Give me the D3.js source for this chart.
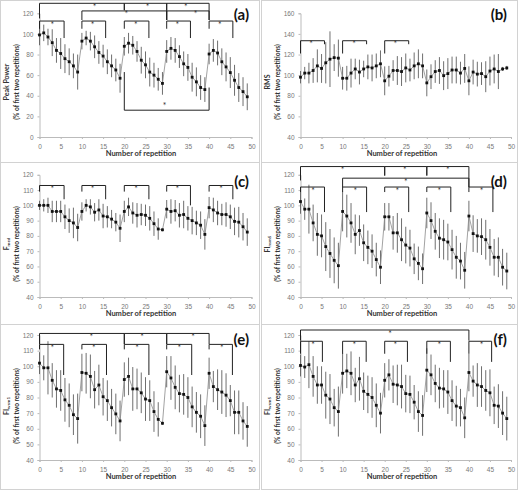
<!DOCTYPE html>
<html>
<head>
<meta charset="utf-8">
<script src="https://cdn.jsdelivr.net/npm/d3@7"></script>
<style>
  body { margin: 0; background: #fff; }
  svg { display: block; font-family: Lato, "Open Sans", sans-serif; }
</style>
</head>
<body>
<svg id="fig" width="522" height="490"></svg>
<script>
// Repetition index (x categories)
const reps = [0,1,2,3,4,5,6,7,8,9,10,11,12,13,14,15,16,17,18,19,20,21,22,23,24,25,26,27,28,29,
  30,31,32,33,34,35,36,37,38,39,40,41,42,43,44,45,46,47,48,49];
const xTicks = [0, 5, 10, 15, 20, 25, 30, 35, 40, 45, 50];

// (a) Peak power
const peakPower = [99,101,97,91.5,84,81,76,73,69,63, 93,96,93,87.5,82,78.5,73,69,65,57,
  88,91,89,83,74.5,70,63,60,56,52, 83,86,84,78,71,67.5,58,53.5,48,46, 80.5,84,81.5,73,68,62.5,55,48,44,39];
const peakPowerErr = [10,8,8,13,12,15,14,13,12,17, 8,7,9,11,11,11,12,11,11,14, 9,10,9,10,13,13,14,12,11,11,
  11,11,12,11,12,13,14,14,12,12, 10,11,12,13,14,15,15,14,14,13];

// (b) RMS
const rms = [98,102,102,104.5,109,106.5,112,115.5,117,116.5, 97,97,102,106,103,106,108,107,109,111,
  94.5,99,104.5,104.5,103.5,107,105,109,111,109, 92.5,98.5,103.5,104.5,99.5,101.5,105,105,102,106.5,
  94.5,103,101,101.5,98.5,104,106,103.5,106,107];
const rmsErr = [6,6,10,12,16,14,20,27,13,18, 11,12,14,10,12,8,12,13,12,13, 14,10,10,14,14,14,11,13,14,12,
  13,12,11,13,14,15,13,13,11,14, 14,12,12,11,15,14,14,17,2,2];

// (c) Fmed
const fmed = [100,100,100,96,96,96,92.5,90,88.5,85.5, 96,100,99,95.5,97,93,92.5,91,89,85,
  96,99,95,93.5,94,93.5,91.5,88,84.5,84, 97.5,96,96.5,93.5,94,91.5,90,88.5,87,81,
  98.5,97,95,94,94,92.5,89.5,89,86,82.5];
const fmedErr = [3,4,5,7,7,7,8,8,10,9, 6,4,5,6,7,8,7,6,6,9, 7,6,7,8,7,7,8,8,7,1,
  6,8,7,8,9,8,9,8,9,10, 7,8,8,7,8,8,9,10,9,9];

// (d) FInsm5
const fiNsm5 = [102.5,97.5,97.5,88.5,81,80,73,68.5,64,60.5, 96,93,88.5,81,83.5,75.5,72.5,70,64.5,59.5,
  92.5,92.5,82,82,77.5,74,72,65,62,58.5, 95,90,83,78.5,77.5,76,71,66,63.5,57.5,
  93,81.5,80,79.5,77.5,72.5,66,66,59.5,57];
const fiNsm5Err = [8,7,16,12,14,14,16,16,15,15, 13,14,13,13,10,12,11,11,11,11, 9,9,11,13,14,12,12,10,11,10,
  10,12,12,13,13,12,13,14,12,12, 10,12,11,12,13,12,12,13,12,12];

// (e) FIwsm1
const fiWsm1 = [102,99,99,91,85.5,84.5,78.5,75,69,66.5, 96,95.5,93.5,85,88,80.5,78,73.5,69.5,65,
  91.5,93.5,85.5,85.5,83,79,78,71,66,63.5, 96.5,92.5,86.5,82.5,82,80,74,70.5,68,62,
  95.5,87,85,83.5,81.5,78,70.5,70.5,65,61.5];
const fiWsm1Err = [7,8,17,11,12,13,14,14,13,16, 12,13,14,12,13,12,13,12,13,13, 11,12,14,13,13,14,13,13,11,1,
  10,14,14,12,13,13,13,13,14,13, 10,10,13,14,14,10,14,14,12,13];

// (f) FIwsm5
const fiWsm5 = [100.5,99.5,101,93.5,88,88,81.5,79,73.5,71, 95.5,97,95.5,88,92,84,82,80,75,70,
  91,94.5,88.5,88,87,82.5,82,77,71,68.5, 97.5,94.5,89,86,85.5,83.5,78,74.5,73.5,67,
  96,90.5,88,87,84.5,83,75,74.5,70,66.5];
const fiWsm5Err = [7,7,15,13,12,12,15,16,12,16, 13,11,14,11,14,12,12,13,14,13, 11,10,12,13,14,12,12,11,13,13,
  14,13,12,13,12,14,13,13,12,13, 12,10,14,13,13,15,12,14,14,14];

// Significance brackets: [from, to, level, leftLegEnd, rightLegEnd, starAt]
const bracketsA = [
  [0,20,129.7,115,123,13], [20,30,129.7,123,123,25.5], [30,40,129.7,113.5,113.5,34.5],
  [10,30,122.3,113.5,113.5,20.5], [30,40,122.3,113.5,113.5,36.8],
  [0,5.8,112.5,105,96,3], [10,15.6,112.5,105,96,12.5], [20,25.8,112.5,105,96,22.7],
  [30,35.6,112.5,105,96,32.5], [40,45.6,112.5,105,96,42.5],
  [20,40,26,63,48,29.5]
];
const bracketsB = [
  [0,5.7,133.4,121,130,2.5], [10,15.7,133.4,121,130,12.7], [20,25.7,133.4,121,130,22.5]
];
const bracketsC = [
  [0,5.8,113,109,104,3], [10,15.6,113,109,104,12.5], [20,25.8,113,109,104,22.8],
  [30,35.6,113,109,100,32.5], [40,45.6,113,109,104,42.8]
];
const bracketsD = [
  [0,20,125.4,116.3,119.5,10], [20,30,125.4,119.5,119.5,24.8], [30,40,125.4,119.5,112,35],
  [10,40,117.8,112,112,25],
  [0,5.7,112,108.7,95.6,3], [10,15.7,112,108.7,95.6,13], [20,25.7,112,108.7,95.6,23],
  [30,35.7,112,108.7,95.6,33], [40,45.7,112,108.7,95.6,43]
];
const bracketsE = [
  [0,20,121,114.2,114.2,12.2], [20,30,121,114.2,114.2,24.2], [30,40,121,114.2,114.2,36.2],
  [0,5.7,114,110.8,94.4,3], [10,15.8,114,110.8,94.4,12.8], [20,25.8,114,110.8,94.4,23],
  [30,35.9,114,110.8,94.4,33], [40,45.5,114,110.8,94.4,43]
];
const bracketsF = [
  [0,40,123.2,116.4,116.4,21.3],
  [0,5.2,116,108,102.8,3], [10,15.6,116,108,102.8,12.8], [20,25.4,116,108,102.8,22.5],
  [30,35.6,116,108,102.8,33], [40,45.4,116,108,102.8,43]
];

const ticks0to120 = [0,20,40,60,80,100,120];
const ticks40to160 = [40,60,80,100,120,140,160];
const ticks40to120 = [40,50,60,70,80,90,100,110,120];

const panels = [
  { tag: '(a)', mean: peakPower, err: peakPowerErr, domain: [0,120], ticks: ticks0to120,
    name: 'Peak Power', sub: '', brackets: bracketsA, col: 0, row: 0 },
  { tag: '(b)', mean: rms, err: rmsErr, domain: [40,160], ticks: ticks40to160,
    name: 'RMS', sub: '', brackets: bracketsB, col: 1, row: 0 },
  { tag: '(c)', mean: fmed, err: fmedErr, domain: [40,120], ticks: ticks40to120,
    name: 'F', sub: 'med', brackets: bracketsC, col: 0, row: 1 },
  { tag: '(d)', mean: fiNsm5, err: fiNsm5Err, domain: [40,120], ticks: ticks40to120,
    name: 'FI', sub: 'nsm5', brackets: bracketsD, col: 1, row: 1 },
  { tag: '(e)', mean: fiWsm1, err: fiWsm1Err, domain: [40,120], ticks: ticks40to120,
    name: 'FI', sub: 'wsm1', brackets: bracketsE, col: 0, row: 2 },
  { tag: '(f)', mean: fiWsm5, err: fiWsm5Err, domain: [40,120], ticks: ticks40to120,
    name: 'FI', sub: 'wsm5', brackets: bracketsF, col: 1, row: 2 }
];

// layout of the grid
const colX = [0, 261], colW = [259, 256];
const rowY = [0, 162, 324], rowH = [162, 162, 165];
const rowRange = [[137, 13.3], [135, 12.8], [136, 11]];
const tagY = [20, 25, 21];

const svg = d3.select('#fig');

panels.forEach(p => {
  const g = svg.append('g')
    .attr('transform', `translate(${colX[p.col]},${rowY[p.row]})`);

  // panel frame
  g.append('rect')
    .attr('x', 0.5).attr('y', 0.5)
    .attr('width', colW[p.col]).attr('height', rowH[p.row])
    .attr('fill', 'none').attr('stroke', '#d2d2d2');

  const x = d3.scaleLinear().domain([0, 50]).range([39.5, p.col === 0 ? 251.5 : 250]);
  const y = d3.scaleLinear().domain(p.domain).range(rowRange[p.row]);
  const bottom = rowRange[p.row][0];

  // Y axis
  const ya = g.append('g')
    .attr('transform', `translate(${x(0)},0)`)
    .call(d3.axisLeft(y).tickValues(p.ticks).tickSize(2).tickPadding(4));
  ya.select('.domain').attr('stroke', '#bbb');
  ya.selectAll('.tick line').attr('stroke', '#bbb');
  ya.selectAll('text').attr('fill', '#777').attr('font-size', '6.5px');

  // X axis
  const xa = g.append('g')
    .attr('transform', `translate(0,${bottom})`)
    .call(d3.axisBottom(x).tickValues(xTicks).tickSize(2).tickPadding(5));
  xa.select('.domain').attr('stroke', '#bbb');
  xa.selectAll('.tick line').attr('stroke', '#bbb');
  xa.selectAll('text').attr('fill', '#777').attr('font-size', '6.5px');

  // axis titles
  g.append('text')
    .attr('x', 141).attr('y', bottom + 19)
    .attr('text-anchor', 'middle')
    .attr('font-size', '7.5px').attr('font-weight', 'bold').attr('fill', '#333')
    .text('Number of repetition');

  const yt = g.append('text')
    .attr('transform', 'translate(8.5,82) rotate(-90)')
    .attr('text-anchor', 'middle')
    .attr('font-size', '7px').attr('font-weight', 'bold').attr('fill', '#333');
  yt.append('tspan').text(p.name);
  if (p.sub) {
    yt.append('tspan').attr('font-size', '4.5px').attr('dy', 1.5).text(p.sub);
  }
  g.append('text')
    .attr('transform', 'translate(19,82) rotate(-90)')
    .attr('text-anchor', 'middle')
    .attr('font-size', '6.5px').attr('font-weight', 'bold').attr('fill', '#333')
    .text('(% of first two repetitions)');

  // error bars
  g.selectAll('.err')
    .data(reps)
    .enter().append('line')
    .attr('class', 'err')
    .attr('x1', i => x(i)).attr('x2', i => x(i))
    .attr('y1', i => y(p.mean[i] - p.err[i]))
    .attr('y2', i => y(p.mean[i] + p.err[i]))
    .attr('stroke', '#555').attr('stroke-width', 0.85);

  // mean line
  g.append('path')
    .datum(reps)
    .attr('d', d3.line().x(i => x(i)).y(i => y(p.mean[i])))
    .attr('fill', 'none').attr('stroke', '#8a8a8a').attr('stroke-width', 0.8);

  // markers
  g.selectAll('.pt')
    .data(reps)
    .enter().append('rect')
    .attr('class', 'pt')
    .attr('x', i => x(i) - 1.4).attr('y', i => y(p.mean[i]) - 1.4)
    .attr('width', 2.8).attr('height', 2.8)
    .attr('fill', '#111');

  // significance brackets
  p.brackets.forEach(([x1, x2, lv, l1, l2, s]) => {
    const path = d3.path();
    path.moveTo(x(x1), y(l1));
    path.lineTo(x(x1), y(lv));
    path.lineTo(x(x2), y(lv));
    path.lineTo(x(x2), y(l2));
    g.append('path')
      .attr('d', path.toString())
      .attr('fill', 'none').attr('stroke', '#222').attr('stroke-width', 1);
    const below = l1 < lv;
    g.append('text')
      .attr('x', x(s))
      .attr('y', below ? y(lv) + 6.5 : y(lv) - 1)
      .attr('text-anchor', 'middle')
      .attr('font-size', '8.5px').attr('fill', '#333')
      .text('*');
  });

  // panel tag
  g.append('text')
    .attr('x', colW[p.col] - 10).attr('y', tagY[p.row])
    .attr('text-anchor', 'end')
    .attr('font-size', '15px').attr('font-weight', 'bold').attr('fill', '#111')
    .text(p.tag);
});
</script>
</body>
</html>
